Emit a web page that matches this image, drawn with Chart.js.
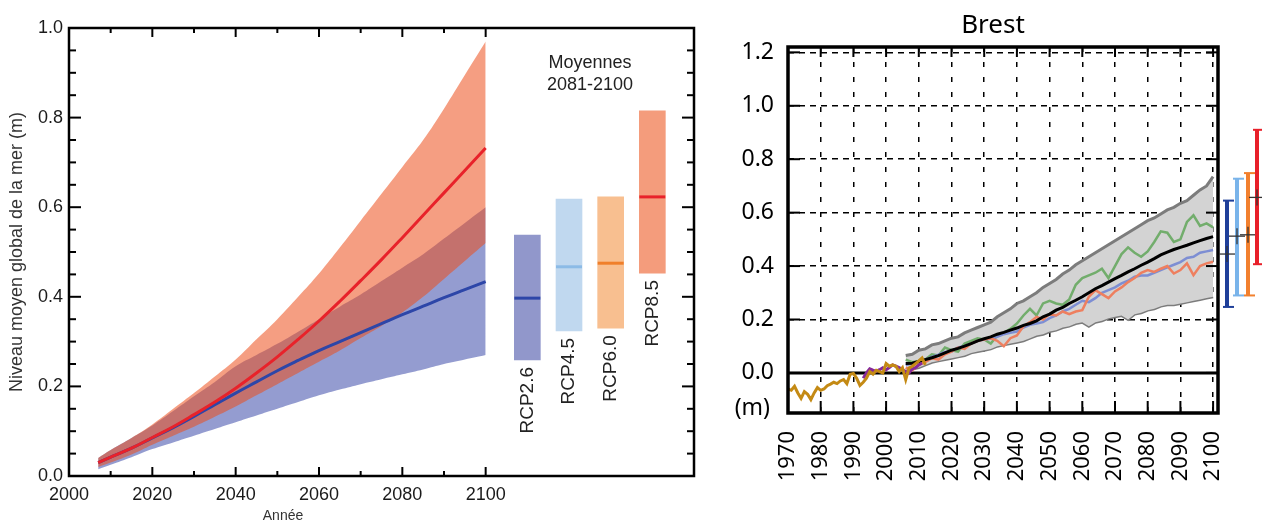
<!DOCTYPE html>
<html><head><meta charset="utf-8">
<script src="https://cdn.jsdelivr.net/npm/chart.js@4.4.1/dist/chart.umd.min.js"></script>
<style>
html,body{margin:0;padding:0;background:#fff;width:1262px;height:521px;overflow:hidden}
#l{position:absolute;left:0;top:0;width:710px;height:521px}
#r{position:absolute;left:710px;top:0;width:552px;height:521px}
canvas{display:block}
</style></head><body>
<div id="l"><canvas id="cl" width="710" height="521"></canvas></div>
<div id="r"><canvas id="cr" width="552" height="521"></canvas></div>
<script>
// ---------- LEFT PANEL (global mean sea level) ----------
const globalYears = [2007,2010,2015,2020,2025,2030,2035,2040,2045,2050,2055,2060,2065,2070,2075,2080,2085,2090,2095,2100];
const rcp85Median = [0.03,0.042,0.062,0.086,0.11,0.137,0.165,0.196,0.23,0.266,0.305,0.346,0.39,0.436,0.483,0.532,0.582,0.632,0.682,0.732];
const rcp85Upper  = [0.04,0.058,0.085,0.115,0.15,0.185,0.222,0.26,0.305,0.35,0.4,0.452,0.51,0.57,0.63,0.69,0.75,0.82,0.895,0.97];
const rcp85Lower  = [0.02,0.03,0.048,0.07,0.09,0.11,0.132,0.155,0.18,0.205,0.23,0.255,0.28,0.308,0.335,0.365,0.4,0.44,0.48,0.52];
const rcp26Median = [0.03,0.042,0.062,0.085,0.108,0.133,0.159,0.185,0.21,0.235,0.258,0.28,0.3,0.32,0.34,0.36,0.379,0.398,0.416,0.434];
const rcp26Upper  = [0.04,0.058,0.085,0.113,0.145,0.178,0.21,0.245,0.27,0.295,0.322,0.35,0.378,0.405,0.435,0.465,0.495,0.53,0.565,0.60];
const rcp26Lower  = [0.015,0.025,0.042,0.06,0.075,0.09,0.105,0.12,0.135,0.15,0.165,0.18,0.193,0.205,0.216,0.227,0.238,0.25,0.26,0.27];

const rcpNames = ['RCP2.6','RCP4.5','RCP6.0','RCP8.5'];
const rcpPos   = [2110,2120,2130,2140];
const rcpLow   = [0.259,0.324,0.330,0.453];
const rcpHigh  = [0.538,0.618,0.623,0.815];
const rcpMed   = [0.397,0.467,0.475,0.623];
const rcpFill  = ['#9197cb','#c0d8ef','#f8bf90','#f49c7c'];
const rcpLine  = ['#2d46a8','#8cbbe6','#f07f2a','#e8222a'];

const leftXTicks = [2000,2020,2040,2060,2080,2100];
const leftYTicks = [0,0.2,0.4,0.6,0.8,1.0];

// ---------- RIGHT PANEL (Brest) ----------
const gaugeYears = [1970,1971,1972,1973,1974,1975,1976,1977,1978,1979,1980,1981,1982,1983,1984,1985,1986,1987,1988,1989,1990,1991,1992,1993,1994,1995,1996,1997,1998,1999,2000,2001,2002,2003,2004,2005,2006,2007,2008,2009,2010,2011,2012];
const gaugeValues = [-0.06,-0.065,-0.05,-0.075,-0.095,-0.07,-0.08,-0.1,-0.075,-0.055,-0.065,-0.06,-0.048,-0.042,-0.035,-0.04,-0.03,-0.025,-0.04,-0.005,-0.002,-0.02,-0.047,-0.035,-0.02,0.005,-0.005,0.01,0.005,0.0,0.035,0.025,0.03,0.025,0.005,0.02,-0.025,0.018,0.025,0.035,0.045,0.056,0.03];
const altiYears = [1993,1994,1995,1996,1997,1998,1999,2000,2001,2002,2003,2004,2005,2006,2007,2008,2009,2010,2011];
const altiValues = [-0.02,0.0,0.015,0.01,0.006,0.012,0.019,0.012,0.02,0.03,0.025,0.02,0.012,0.005,0.0,0.015,0.02,0.03,0.037];

const projYears = [2006,2008,2010,2012,2014,2016,2018,2020,2022,2024,2026,2028,2030,2032,2034,2036,2038,2040,2042,2044,2046,2048,2050,2052,2054,2056,2058,2060,2062,2064,2066,2068,2070,2072,2074,2076,2078,2080,2082,2084,2086,2088,2090,2092,2094,2096,2098,2100];
const bandUpper = [0.065,0.07,0.085,0.09,0.105,0.11,0.12,0.13,0.135,0.15,0.16,0.17,0.18,0.19,0.21,0.225,0.24,0.26,0.27,0.285,0.3,0.32,0.335,0.35,0.37,0.385,0.405,0.42,0.435,0.45,0.465,0.48,0.495,0.51,0.525,0.54,0.555,0.57,0.58,0.595,0.61,0.62,0.635,0.645,0.665,0.685,0.70,0.735];
const bandLower = [0.012,0.015,0.02,0.03,0.04,0.045,0.05,0.055,0.06,0.065,0.075,0.08,0.085,0.09,0.1,0.105,0.11,0.115,0.12,0.13,0.14,0.145,0.155,0.16,0.17,0.175,0.185,0.19,0.175,0.19,0.195,0.205,0.21,0.215,0.2,0.22,0.225,0.235,0.24,0.25,0.255,0.255,0.26,0.265,0.27,0.275,0.28,0.285];
const ensMedian = [0.035,0.036,0.043,0.05,0.057,0.065,0.075,0.085,0.092,0.1,0.11,0.12,0.128,0.135,0.145,0.152,0.16,0.168,0.178,0.185,0.195,0.21,0.22,0.235,0.245,0.26,0.272,0.285,0.3,0.315,0.327,0.34,0.353,0.365,0.378,0.39,0.403,0.415,0.428,0.442,0.452,0.462,0.47,0.478,0.487,0.495,0.503,0.51];
const modelGreen = [0.05,0.04,0.045,0.05,0.07,0.065,0.095,0.085,0.08,0.11,0.12,0.13,0.125,0.11,0.14,0.15,0.165,0.185,0.215,0.24,0.215,0.26,0.27,0.26,0.255,0.275,0.33,0.355,0.365,0.375,0.39,0.355,0.4,0.445,0.47,0.45,0.435,0.455,0.49,0.53,0.525,0.49,0.5,0.565,0.59,0.55,0.56,0.545];
const modelBlue = [0.03,0.035,0.04,0.05,0.06,0.068,0.078,0.08,0.095,0.1,0.11,0.12,0.125,0.128,0.135,0.145,0.15,0.155,0.17,0.18,0.185,0.19,0.205,0.215,0.23,0.24,0.255,0.27,0.265,0.28,0.3,0.31,0.32,0.335,0.345,0.36,0.365,0.365,0.375,0.385,0.395,0.405,0.415,0.43,0.435,0.45,0.455,0.46];
const modelOrange = [0.02,0.01,0.03,0.04,0.055,0.05,0.07,0.08,0.095,0.09,0.11,0.12,0.125,0.13,0.12,0.1,0.13,0.14,0.175,0.19,0.21,0.2,0.22,0.215,0.23,0.22,0.23,0.235,0.285,0.31,0.295,0.28,0.305,0.32,0.34,0.355,0.375,0.385,0.378,0.39,0.4,0.372,0.385,0.41,0.366,0.4,0.41,0.416];

const ebLow  = [0.247,0.29,0.29,0.407];
const ebMed  = [0.445,0.512,0.517,0.657];
const ebHigh = [0.645,0.727,0.748,0.91];
const ebColors = ['#1f3f99','#7ab4ea','#f2802e','#e8202a'];

const rightXTicks = [1970,1980,1990,2000,2010,2020,2030,2040,2050,2060,2070,2080,2090,2100];
const rightYTicks = [0,0.2,0.4,0.6,0.8,1.0,1.2];

// ---------- helpers ----------
const pts = (xs, ys) => xs.map((x, i) => ({x, y: ys[i]}));
function seg(ctx, x1, y1, x2, y2) { ctx.beginPath(); ctx.moveTo(x1, y1); ctx.lineTo(x2, y2); ctx.stroke(); }
const FL = "'Liberation Sans', Arial, Helvetica, sans-serif";
const FR = "'Noto Sans', 'Open Sans', sans-serif";

// ---------- LEFT CHART ----------
const leftDecor = {
  id: 'leftDecor',
  afterDraw(chart) {
    const {ctx, chartArea: a, scales: {x, y}} = chart;
    ctx.save();
    ctx.strokeStyle = '#000';
    ctx.lineWidth = 2.5;
    ctx.strokeRect(a.left, a.top, a.right - a.left, a.bottom - a.top);
    ctx.lineWidth = 2;
    for (let v = 2000; v <= 2100; v += 10) {
      const px = x.getPixelForValue(v);
      const L = (v % 20 === 0) ? 9 : 5;
      seg(ctx, px, a.bottom, px, a.bottom - L);
      seg(ctx, px, a.top, px, a.top + L);
    }
    for (let i = 0; i <= 20; i++) {
      const py = y.getPixelForValue(i * 0.05);
      const L = (i % 4 === 0) ? 12 : 7;
      seg(ctx, a.left, py, a.left + L, py);
      seg(ctx, a.right, py, a.right - L, py);
    }
    // RCP labels
    ctx.fillStyle = '#222';
    ctx.font = '19px ' + FL;
    ctx.textAlign = 'right';
    ctx.textBaseline = 'middle';
    rcpNames.forEach((n, i) => {
      ctx.save();
      ctx.translate(x.getPixelForValue(rcpPos[i]), y.getPixelForValue(rcpLow[i]) + 7);
      ctx.rotate(-Math.PI / 2);
      ctx.fillText(n, 0, 0);
      ctx.restore();
    });
    // Moyennes
    ctx.textAlign = 'center';
    ctx.font = '18px ' + FL;
    ctx.fillText('Moyennes', a.left + 521, 63);
    ctx.fillText('2081-2100', a.left + 521, 85);
    // axis titles
    ctx.fillStyle = '#333';
    ctx.save();
    ctx.translate(17, (a.top + a.bottom) / 2);
    ctx.rotate(-Math.PI / 2);
    ctx.font = '18px ' + FL;
    ctx.fillText('Niveau moyen global de la mer (m)', 0, 0);
    ctx.restore();
    ctx.font = '14px ' + FL;
    ctx.fillText('Année', 283, 516);
    ctx.restore();
  }
};

new Chart(document.getElementById('cl'), {
  type: 'line',
  data: {
    datasets: [
      {data: pts(globalYears, rcp85Median), borderColor: '#e8222a', borderWidth: 3, pointRadius: 0, tension: 0.4, fill: false},
      {data: pts(globalYears, rcp26Median), borderColor: '#2d46a8', borderWidth: 3, pointRadius: 0, tension: 0.4, fill: false},
      {data: pts(globalYears, rcp85Upper), borderWidth: 0, pointRadius: 0, tension: 0.4, fill: '+1', backgroundColor: 'rgba(236,78,28,0.55)'},
      {data: pts(globalYears, rcp85Lower), borderWidth: 0, pointRadius: 0, tension: 0.4, fill: false},
      {data: pts(globalYears, rcp26Upper), borderWidth: 0, pointRadius: 0, tension: 0.4, fill: '+1', backgroundColor: 'rgba(60,75,170,0.55)'},
      {data: pts(globalYears, rcp26Lower), borderWidth: 0, pointRadius: 0, tension: 0.4, fill: false},
      {data: pts(rcpPos, rcpMed), showLine: false, pointStyle: 'line', pointRadius: 13, pointBorderWidth: 3, pointBorderColor: rcpLine, borderColor: rcpLine},
      {type: 'bar', data: rcpPos.map((p, i) => ({x: p, y: [rcpLow[i], rcpHigh[i]]})), backgroundColor: rcpFill, barThickness: 26, grouped: false, borderWidth: 0}
    ]
  },
  options: {
    responsive: false, animation: false, events: [],
    layout: {padding: {left: 0, top: 28, right: 13, bottom: 0}},
    plugins: {legend: {display: false}, tooltip: {enabled: false}},
    scales: {
      x: {
        type: 'linear', min: 2000, max: 2150, offset: false,
        grid: {display: false, drawTicks: false}, border: {display: false},
        afterBuildTicks: s => { s.ticks = leftXTicks.map(v => ({value: v})); },
        afterFit: s => { s.height = 45; },
        ticks: {color: '#1a1a1a', font: {family: FL, size: 18}, padding: 8, maxRotation: 0, autoSkip: false, callback: v => String(v)}
      },
      y: {
        type: 'linear', min: 0, max: 1.0, beginAtZero: false,
        grid: {display: false, drawTicks: false}, border: {display: false},
        afterBuildTicks: s => { s.ticks = leftYTicks.map(v => ({value: v})); },
        afterFit: s => { s.width = 69; },
        ticks: {color: '#1a1a1a', font: {family: FL, size: 18}, padding: 6, callback: v => Number(v).toFixed(1)}
      }
    }
  },
  plugins: [leftDecor]
});

// ---------- RIGHT CHART ----------
const rightDecor = {
  id: 'rightDecor',
  beforeDatasetsDraw(chart) {
    const {ctx, chartArea: a, scales: {y}} = chart;
    ctx.save();
    ctx.strokeStyle = '#000';
    ctx.lineWidth = 3;
    const y0 = y.getPixelForValue(0);
    seg(ctx, a.left, y0, a.right, y0);
    ctx.restore();
  },
  afterDraw(chart) {
    const {ctx, chartArea: a, scales: {x, y}} = chart;
    ctx.save();
    ctx.strokeStyle = '#000';
    ctx.lineWidth = 2;
    rightXTicks.forEach(v => {
      const px = x.getPixelForValue(v);
      seg(ctx, px, a.bottom, px, a.bottom - 12);
      seg(ctx, px, a.top, px, a.top + 10);
    });
    rightYTicks.forEach(v => {
      const py = y.getPixelForValue(v);
      seg(ctx, a.left, py, a.left + 12, py);
      seg(ctx, a.right, py, a.right - 12, py);
    });
    ctx.lineWidth = 3.5;
    ctx.strokeRect(a.left, a.top, a.right - a.left, a.bottom - a.top);
    // error bars
    const offs = [9, 19, 30, 39];
    ebColors.forEach((c, i) => {
      const px = a.right + offs[i];
      const t = y.getPixelForValue(ebHigh[i]), b = y.getPixelForValue(ebLow[i]), m = y.getPixelForValue(ebMed[i]);
      ctx.strokeStyle = c;
      ctx.lineWidth = 4;
      seg(ctx, px, t, px, b);
      ctx.lineWidth = 2;
      seg(ctx, px - 4, t, px + 7, t);
      seg(ctx, px - 4, b, px + 7, b);
      ctx.strokeStyle = '#333';
      ctx.lineWidth = 1.3;
      seg(ctx, px - 8, m, px + 8, m);
      seg(ctx, px, m - 8, px, m + 8);
    });
    // texts
    ctx.fillStyle = '#000';
    ctx.textAlign = 'center';
    ctx.textBaseline = 'middle';
    ctx.font = '26px ' + FR;
    ctx.fillText('Brest', a.left + 205, 26);
    ctx.textAlign = 'right';
    ctx.font = '23px ' + FR;
    ctx.fillText('(m)', 60, 408);
    ctx.restore();
  }
};

new Chart(document.getElementById('cr'), {
  type: 'line',
  data: {
    datasets: [
      {data: pts(gaugeYears, gaugeValues), borderColor: '#c48a14', borderWidth: 3, pointRadius: 0, tension: 0, fill: false},
      {data: pts(altiYears, altiValues), borderColor: '#86289a', borderWidth: 3, pointRadius: 0, tension: 0, fill: false},
      {data: pts(projYears, ensMedian), borderColor: '#000', borderWidth: 3, pointRadius: 0, tension: 0, fill: false},
      {data: pts(projYears, modelOrange), borderColor: '#ee7f5f', borderWidth: 2.5, pointRadius: 0, tension: 0, fill: false},
      {data: pts(projYears, modelBlue), borderColor: '#7d8ed3', borderWidth: 2.5, pointRadius: 0, tension: 0, fill: false},
      {data: pts(projYears, modelGreen), borderColor: '#72ad6c', borderWidth: 2.5, pointRadius: 0, tension: 0, fill: false},
      {data: pts(projYears, bandUpper), borderColor: '#7c7c7c', borderWidth: 3, pointRadius: 0, tension: 0, fill: '+1', backgroundColor: '#d3d3d3'},
      {data: pts(projYears, bandLower), borderColor: '#7c7c7c', borderWidth: 3, pointRadius: 0, tension: 0, fill: false}
    ]
  },
  options: {
    responsive: false, animation: false, events: [],
    layout: {padding: {left: 0, top: 47, right: 44, bottom: 0}},
    plugins: {legend: {display: false}, tooltip: {enabled: false}},
    scales: {
      x: {
        type: 'linear', min: 1970, max: 2101.5, offset: false,
        grid: {display: true, drawTicks: false, color: c => (c.tick && c.tick.value === 1970) ? 'rgba(0,0,0,0)' : '#000', lineWidth: 1.5},
        border: {display: false, dash: [5, 10]},
        afterBuildTicks: s => { s.ticks = rightXTicks.map(v => ({value: v})); },
        afterFit: s => { s.height = 108; },
        ticks: {color: '#000', font: {family: FR, size: 22}, padding: 18, minRotation: 90, maxRotation: 90, autoSkip: false, callback: v => String(v)}
      },
      y: {
        type: 'linear', min: -0.15, max: 1.22, beginAtZero: false,
        grid: {display: true, drawTicks: false, color: c => (c.tick && c.tick.value === 0) ? 'rgba(0,0,0,0)' : '#000', lineWidth: 1.5},
        border: {display: false, dash: [6, 5]},
        afterBuildTicks: s => { s.ticks = rightYTicks.map(v => ({value: v})); },
        afterFit: s => { s.width = 78; },
        ticks: {color: '#000', font: {family: FR, size: 23}, padding: 14, callback: v => Number(v).toFixed(1)}
      }
    }
  },
  plugins: [rightDecor]
});
</script>
</body></html>
